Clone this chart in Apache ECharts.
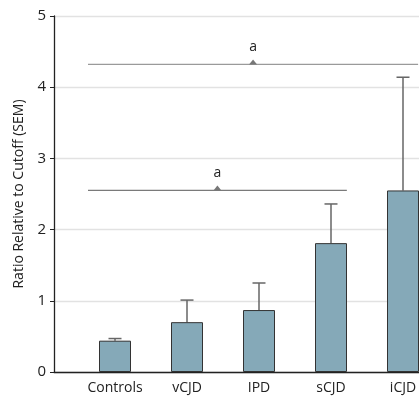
<!DOCTYPE html>
<html lang="en" style="height: 100%">
<head>
  <meta charset="UTF-8" />
  <title>Ratio Relative to Cutoff</title>
  <script src="https://cdn.jsdelivr.net/npm/echarts@6/dist/echarts.min.js"></script>
</head>
<body style="height: 100%; margin: 0; background: #fff">
  <div id="main" style="width: 419px; height: 397px"></div>
  <script type="text/javascript">
    // data
    var categories = ["Controls", "vCJD", "IPD", "sCJD", "iCJD"];
    var means = [0.44, 0.70, 0.87, 1.81, 2.55];
    var semTops = [0.47, 1.01, 1.25, 2.36, 4.14];
    var yTicks = [0, 1, 2, 3, 4, 5];
    // significance brackets: level and label
    var sigLevels = [4.32, 2.55];
    var sigLabels = ["a", "a"];

    var font = "Open Sans";
    var myChart = echarts.init(document.getElementById("main"));

    var errData = [];
    for (var i = 0; i < categories.length; i++) {
      errData.push([i, means[i], semTops[i]]);
    }

    // bracket spans in category-index units
    var spans = [[-0.375, 4.21], [-0.375, 3.22]];
    var sigSeries = [];
    for (var k = 0; k < sigLevels.length; k++) {
      var mid = (spans[k][0] + spans[k][1]) / 2;
      sigSeries.push({
        type: "line",
        xAxisIndex: 2,
        yAxisIndex: 1,
        silent: true,
        z: 5,
        lineStyle: { color: k === 0 ? "#9a9a9a" : "#7a7a7a", width: 1.3 },
        data: [
          { value: [spans[k][0], sigLevels[k]], symbol: "none" },
          {
            value: [mid, sigLevels[k]],
            symbol: "triangle",
            symbolSize: [8, 5],
            symbolOffset: [0, -2.5],
            itemStyle: { color: "#777" },
            label: {
              show: true,
              position: "top",
              distance: 5,
              formatter: sigLabels[k],
              fontFamily: font,
              fontSize: 14,
              color: "#222"
            }
          },
          { value: [spans[k][1], sigLevels[k]], symbol: "none" }
        ]
      });
    }

    var option = {
      animation: false,
      grid: [
        { left: 54, right: 0, top: 16, bottom: 25, outerBoundsMode: "none" },
        { left: 79, width: 360, top: 16, bottom: 25, outerBoundsMode: "none" }
      ],
      xAxis: [
        {
          gridIndex: 0, type: "value", min: 0, max: 1,
          axisLine: { show: true, lineStyle: { color: "#222", width: 1.3 } },
          axisTick: { show: false }, axisLabel: { show: false }, splitLine: { show: false }
        },
        {
          gridIndex: 1, type: "category", data: categories,
          axisLine: { show: false }, axisTick: { show: false },
          axisLabel: { margin: 9, fontFamily: font, fontSize: 14, color: "#222" }
        },
        {
          gridIndex: 1, type: "value", min: -0.5, max: 4.5, show: false
        }
      ],
      yAxis: [
        {
          gridIndex: 0, type: "value", min: yTicks[0], max: yTicks[yTicks.length - 1], interval: 1,
          name: "Ratio Relative to Cutoff (SEM)",
          nameLocation: "middle", nameGap: 28,
          nameTextStyle: { fontFamily: font, fontSize: 14, color: "#222" },
          axisLine: { show: true, lineStyle: { color: "#222", width: 1.3 } },
          axisTick: { show: true, length: 4, lineStyle: { color: "#222" } },
          axisLabel: { margin: 8, fontFamily: font, fontSize: 15, color: "#222" },
          splitLine: { show: true, lineStyle: { color: "#e2e2e2", width: 1.3 } }
        },
        {
          gridIndex: 1, type: "value", min: 0, max: 5, show: false
        }
      ],
      series: [
        {
          type: "bar",
          xAxisIndex: 1,
          yAxisIndex: 1,
          barWidth: 32,
          data: means,
          itemStyle: { color: "#85a9b8", borderColor: "#333", borderWidth: 1 },
          z: 3
        },
        {
          type: "custom",
          xAxisIndex: 1,
          yAxisIndex: 1,
          data: errData,
          z: 2,
          renderItem: function (params, api) {
            var base = api.coord([api.value(0), api.value(1)]);
            var top = api.coord([api.value(0), api.value(2)]);
            var style = { stroke: "#666", lineWidth: 1.5 };
            return {
              type: "group",
              children: [
                { type: "line", shape: { x1: base[0], y1: base[1], x2: top[0], y2: top[1] }, style: style },
                { type: "line", shape: { x1: top[0] - 6.5, y1: top[1], x2: top[0] + 6.5, y2: top[1] }, style: style }
              ]
            };
          }
        }
      ].concat(sigSeries)
    };

    myChart.setOption(option);
    window.addEventListener("resize", myChart.resize);
  </script>
</body>
</html>
